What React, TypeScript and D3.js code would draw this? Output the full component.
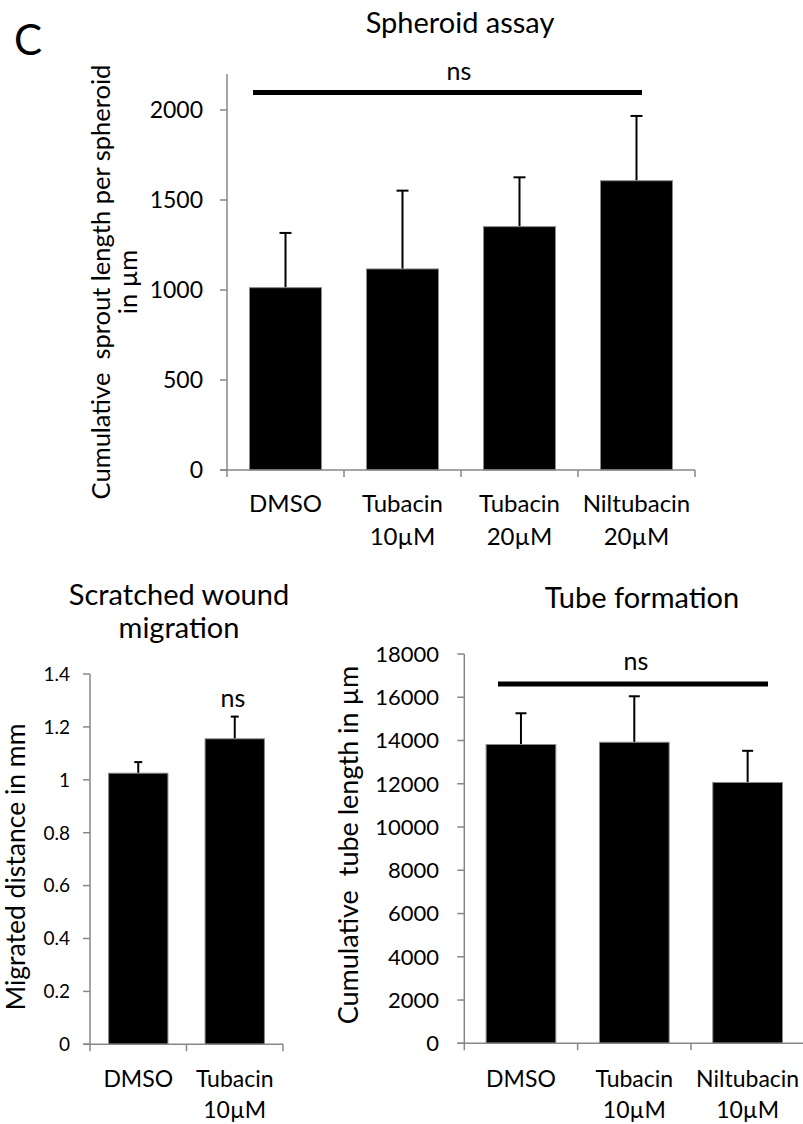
import React from "react";
import * as d3 from "d3";

// ---------- data ----------
const spheroidCategories = [["DMSO"], ["Tubacin", "10µM"], ["Tubacin", "20µM"], ["Niltubacin", "20µM"]];
const spheroidMeans = [1013, 1117, 1352, 1607];
const spheroidErrors = [304, 435, 274, 360];
const spheroidTicks = [0, 500, 1000, 1500, 2000];

const migrationCategories = [["DMSO"], ["Tubacin", "10µM"]];
const migrationMeans = [1.025, 1.155];
const migrationErrors = [0.042, 0.084];
const migrationTicks = [0, 0.2, 0.4, 0.6, 0.8, 1, 1.2, 1.4];

const tubeCategories = [["DMSO"], ["Tubacin", "10µM"], ["Niltubacin", "10µM"]];
const tubeMeans = [13815, 13920, 12061];
const tubeErrors = [1445, 2125, 1463];
const tubeTicks = [0, 2000, 4000, 6000, 8000, 10000, 12000, 14000, 16000, 18000];

const FONT = "Lato, 'Open Sans', sans-serif";
const AXIS = "#878787";
const PRE = { whiteSpace: "pre" as const };

type PanelProps = {
  cats: string[][];
  means: number[];
  errs: number[];
  ticks: number[];
  yMax: number;
  x0: number; x1: number; y0: number; y1: number;
  tickFont: number;
  labelFont: number;
  tickLabelX: number;
  labelBaseline: number;
  labelLineGap: number;
  capW: number;
};

function Panel(p: PanelProps) {
  const y = d3.scaleLinear().domain([0, p.yMax]).range([p.y0, p.y1]);
  const idx = p.cats.map((_, i) => String(i));
  const pad = 0.385;
  const x = d3.scaleBand().domain(idx).range([p.x0, p.x1]).paddingInner(pad).paddingOuter(pad / 2);
  const step = x.step();
  return (
    <g>
      {p.means.map((m, i) => {
        const cx = (x(String(i)) as number) + x.bandwidth() / 2;
        const top = y(m + p.errs[i]);
        return (
          <g key={i}>
            <line x1={cx} x2={cx} y1={y(m)} y2={top} stroke="#000" strokeWidth={2} />
            <line x1={cx - p.capW / 2} x2={cx + p.capW / 2} y1={top} y2={top} stroke="#000" strokeWidth={2} />
            <rect x={x(String(i)) as number} y={y(m)} width={x.bandwidth()} height={y(0) - y(m)} fill="#000" stroke="#8a8a8a" strokeWidth={1} />
          </g>
        );
      })}
      <line x1={p.x0} x2={p.x0} y1={p.y0 + 0.5} y2={p.y1} stroke={AXIS} strokeWidth={1.5} />
      {p.ticks.map((t) => (
        <g key={t}>
          <line x1={p.x0 - 7} x2={p.x0} y1={y(t)} y2={y(t)} stroke={AXIS} strokeWidth={1.5} />
          <text x={p.tickLabelX} y={y(t)} dy="0.36em" textAnchor="end" fontSize={p.tickFont} fontFamily={FONT} fill="#000">
            {String(t)}
          </text>
        </g>
      ))}
      <line x1={p.x0 - 7} x2={p.x1} y1={p.y0} y2={p.y0} stroke={AXIS} strokeWidth={1.5} />
      {d3.range(p.cats.length + 1).map((i) => (
        <line key={i} x1={p.x0 + i * step} x2={p.x0 + i * step} y1={p.y0} y2={p.y0 + 7} stroke={AXIS} strokeWidth={1.5} />
      ))}
      {p.cats.map((c, i) => {
        const cx = (x(String(i)) as number) + x.bandwidth() / 2;
        return (
          <text key={i} textAnchor="middle" fontSize={p.labelFont} fontFamily={FONT} fill="#000">
            {c.map((line, j) => (
              <tspan key={j} x={cx} y={p.labelBaseline + j * p.labelLineGap}>{line}</tspan>
            ))}
          </text>
        );
      })}
    </g>
  );
}

export default function App() {
  return (
    <svg width={803} height={1124} style={{ position: "absolute", left: 0, top: 0, background: "#fff" }}>
      <rect width={803} height={1124} fill="#fff" />
      <text x={14} y={55} fontSize={42} fontFamily={FONT} fill="#000">C</text>

      {/* ===== Spheroid assay ===== */}
      <text x={460} y={33} textAnchor="middle" fontSize={29} fontFamily={FONT}>Spheroid assay</text>
      <Panel cats={spheroidCategories} means={spheroidMeans} errs={spheroidErrors} ticks={spheroidTicks} yMax={2200}
        x0={227} x1={695} y0={470} y1={74} tickFont={23} labelFont={24} tickLabelX={203}
        labelBaseline={512} labelLineGap={33} capW={12} />
      <line x1={253} x2={642} y1={92.5} y2={92.5} stroke="#000" strokeWidth={5} />
      <text x={459} y={80} textAnchor="middle" fontSize={25} fontFamily={FONT}>ns</text>
      <text transform="translate(110,282) rotate(-90)" textAnchor="middle" fontSize={25.5} fontFamily={FONT} style={PRE} xmlSpace="preserve">
        <tspan x={0} y={0}>Cumulative  sprout length per spheroid</tspan>
        <tspan x={0} y={27}>in µm</tspan>
      </text>

      {/* ===== Scratched wound migration ===== */}
      <text textAnchor="middle" fontSize={29} fontFamily={FONT}>
        <tspan x={179} y={605}>Scratched wound</tspan>
        <tspan x={179} y={638}>migration</tspan>
      </text>
      <Panel cats={migrationCategories} means={migrationMeans} errs={migrationErrors} ticks={migrationTicks} yMax={1.4}
        x0={90} x1={283} y0={1044.3} y1={674} tickFont={19} labelFont={23} tickLabelX={70}
        labelBaseline={1087} labelLineGap={31} capW={8} />
      <text x={233} y={707} textAnchor="middle" fontSize={25} fontFamily={FONT}>ns</text>
      <text transform="translate(25,867) rotate(-90)" textAnchor="middle" fontSize={26.5} fontFamily={FONT}>Migrated distance in mm</text>

      {/* ===== Tube formation ===== */}
      <text x={642} y={608} textAnchor="middle" fontSize={29} fontFamily={FONT}>Tube formation</text>
      <Panel cats={tubeCategories} means={tubeMeans} errs={tubeErrors} ticks={tubeTicks} yMax={18000}
        x0={464.3} x1={804.3} y0={1043.3} y1={654} tickFont={22} labelFont={23} tickLabelX={439}
        labelBaseline={1087} labelLineGap={31} capW={11} />
      <line x1={498} x2={768} y1={684} y2={684} stroke="#000" strokeWidth={5} />
      <text x={636} y={670} textAnchor="middle" fontSize={25} fontFamily={FONT}>ns</text>
      <text transform="translate(358,845) rotate(-90)" textAnchor="middle" fontSize={27} fontFamily={FONT} style={PRE} xmlSpace="preserve">Cumulative  tube length in µm</text>
    </svg>
  );
}
